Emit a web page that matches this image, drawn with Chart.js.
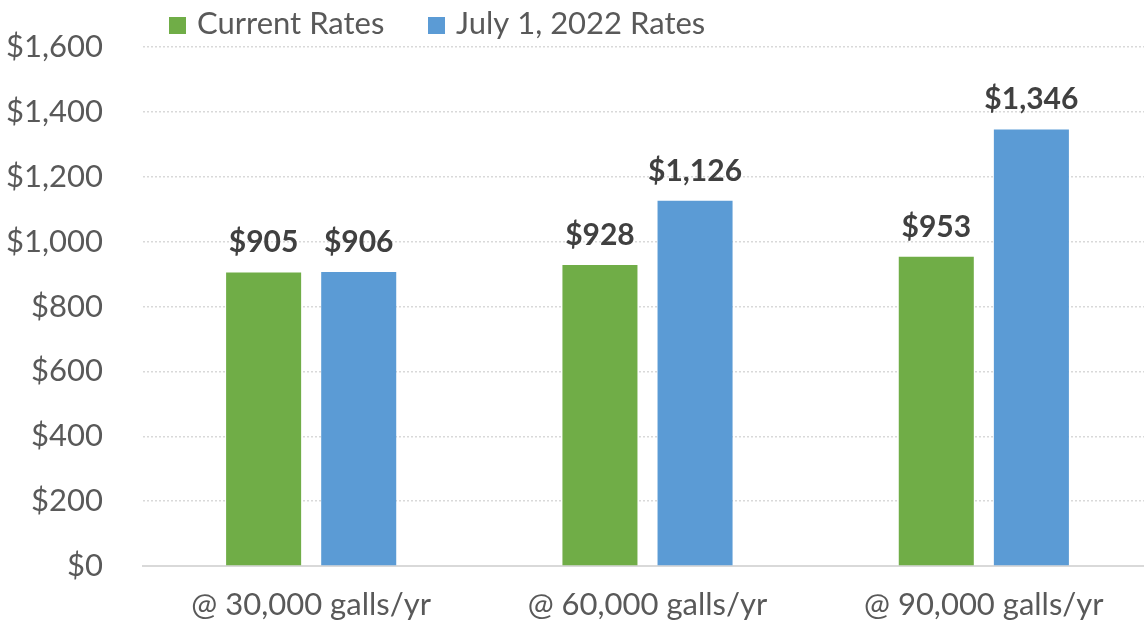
<!DOCTYPE html>
<html>
<head>
<meta charset="utf-8">
<script src="https://cdn.jsdelivr.net/npm/chart.js@4/dist/chart.umd.min.js"></script>
<style>
  html, body { margin: 0; padding: 0; background: #fff; overflow: hidden; width: 1144px; height: 628px; }
  #wrap { position: absolute; left: 0; top: 0; width: 1152px; height: 628px; }
</style>
</head>
<body>
<div id="wrap"><canvas id="c"></canvas></div>
<script>
const categories = ['@ 30,000 galls/yr', '@ 60,000 galls/yr', '@ 90,000 galls/yr'];
const seriesNames = ['Current Rates', 'July 1, 2022 Rates'];
const currentRates = [905, 928, 953];
const july2022Rates = [906, 1126, 1346];
const yTicks = [0, 200, 400, 600, 800, 1000, 1200, 1400, 1600];
const colors = ['#70AD47', '#5B9BD5'];

const FONT = 'Lato, "Open Sans", sans-serif';
const fmt = v => '$' + v.toLocaleString('en-US');

const legendPlugin = {
  id: 'customLegend',
  afterDraw(chart) {
    const ctx = chart.ctx;
    ctx.save();
    const items = [{x: 169}, {x: 428}];
    chart.data.datasets.forEach((ds, i) => {
      const x = items[i].x;
      ctx.fillStyle = ds.backgroundColor;
      ctx.fillRect(x, 17, 17, 17);
      ctx.fillStyle = '#595959';
      ctx.font = '31px ' + FONT;
      ctx.textBaseline = 'alphabetic';
      ctx.textAlign = 'left';
      ctx.fillText(ds.label, x + 28, 34);
    });
    ctx.restore();
  }
};

const labelPlugin = {
  id: 'barLabels',
  afterDatasetsDraw(chart) {
    const ctx = chart.ctx;
    ctx.save();
    ctx.font = 'bold 30px ' + FONT;
    ctx.fillStyle = '#404040';
    ctx.textAlign = 'center';
    ctx.textBaseline = 'alphabetic';
    chart.data.datasets.forEach((ds, i) => {
      chart.getDatasetMeta(i).data.forEach((bar, j) => {
        ctx.fillText(fmt(ds.data[j]), bar.x, bar.y - 20);
      });
    });
    ctx.restore();
  }
};

new Chart(document.getElementById('c'), {
  type: 'bar',
  data: {
    labels: categories,
    datasets: [
      { label: seriesNames[0], data: currentRates, backgroundColor: colors[0], categoryPercentage: 0.5655, barPercentage: 0.789 },
      { label: seriesNames[1], data: july2022Rates, backgroundColor: colors[1], categoryPercentage: 0.5655, barPercentage: 0.789 }
    ]
  },
  options: {
    responsive: true,
    maintainAspectRatio: false,
    animation: false,
    layout: { padding: { top: 47, right: 0, left: 0, bottom: 0 } },
    plugins: { legend: { display: false }, tooltip: { enabled: false } },
    scales: {
      x: {
        grid: { display: false, drawTicks: false },
        border: { display: true, color: '#D9D9D9', width: 2 },
        ticks: { color: '#595959', font: { family: FONT, size: 31 }, padding: 20, maxRotation: 0 },
        afterFit(s) { s.height = 62; }
      },
      y: {
        min: 0, max: 1600,
        afterBuildTicks(s) { s.ticks = yTicks.map(v => ({ value: v })); },
        grid: { color: '#D9D9D9', lineWidth: 1.5, drawTicks: false },
        border: { display: false, dash: [2, 2] },
        ticks: { color: '#595959', font: { family: FONT, size: 31 }, padding: 40, callback: v => fmt(v) },
        afterFit(s) { s.width = 143; s.paddingTop = 0; s.paddingBottom = 0; }
      }
    }
  },
  plugins: [legendPlugin, labelPlugin]
});
</script>
</body>
</html>
